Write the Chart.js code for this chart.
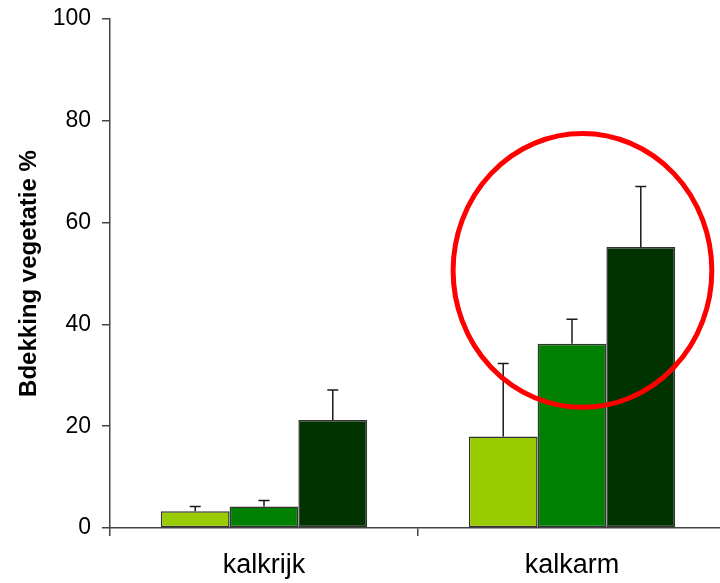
<!DOCTYPE html>
<html>
<head>
<meta charset="utf-8">
<script src="https://cdn.jsdelivr.net/npm/chart.js@4/dist/chart.umd.min.js"></script>
<style>
  html, body { margin: 0; padding: 0; background: #fff; overflow: hidden; }
  #wrap { width: 720px; height: 583px; overflow: hidden; }
</style>
</head>
<body>
<div id="wrap"><canvas id="myChart" width="740" height="583"></canvas></div>
<script>
'use strict';

// categories on the x axis
let categories = ['kalkrijk', 'kalkarm'];
// mean cover per series
let seriesLight = [3.3, 18.0];
let seriesMid = [4.2, 36.2];
let seriesDark = [21.2, 55.2];
// error bar (upper) per series
let errLight = [0.9, 14.3];
let errMid = [1.2, 4.8];
let errDark = [5.9, 11.9];
// y ticks
let yTicks = [0, 20, 40, 60, 80, 100];
// highlighted area (x in category units, y in %)
let circleCenter = [1.034, 50.6];
let circleRadius = [0.42, 26.9];

let errors = [errLight, errMid, errDark];

//plugin to draw the error bars on top of the bars
let errorBars = {
    id: 'errorBars',
    afterDatasetsDraw(chart) {
        let ctx = chart.ctx;
        let yScale = chart.scales.y;
        ctx.save();
        ctx.strokeStyle = '#1a1a1a';
        ctx.lineWidth = 1.5;
        chart.data.datasets.forEach(function (ds, i) {
            let meta = chart.getDatasetMeta(i);
            meta.data.forEach(function (bar, j) {
                let top = yScale.getPixelForValue(ds.data[j] + errors[i][j]);
                ctx.beginPath();
                ctx.moveTo(bar.x, bar.y);
                ctx.lineTo(bar.x, top);
                ctx.moveTo(bar.x - 5.5, top);
                ctx.lineTo(bar.x + 5.5, top);
                ctx.stroke();
            });
        });
        ctx.restore();
    }
};

//plugin for the red circle
let redCircle = {
    id: 'redCircle',
    afterDraw(chart) {
        let ctx = chart.ctx;
        let x = chart.scales.x;
        let y = chart.scales.y;
        let cx = x.getPixelForValue(circleCenter[0]);
        let cy = y.getPixelForValue(circleCenter[1]);
        let rx = Math.abs(x.getPixelForValue(circleCenter[0] + circleRadius[0]) - cx);
        let ry = Math.abs(y.getPixelForValue(circleCenter[1] + circleRadius[1]) - cy);
        ctx.save();
        ctx.strokeStyle = '#ff0000';
        ctx.lineWidth = 5;
        ctx.beginPath();
        ctx.ellipse(cx, cy, rx, ry, 0, 0, Math.PI * 2);
        ctx.stroke();
        ctx.restore();
    }
};

let ctx = document.getElementById('myChart').getContext('2d');
let chart = new Chart(ctx, {
    type: 'bar',
    data: {
        labels: categories,
        datasets: [{
            label: 'reeks 1',
            data: seriesLight,
            backgroundColor: '#99cc00'
        }, {
            label: 'reeks 2',
            data: seriesMid,
            backgroundColor: '#008000'
        }, {
            label: 'reeks 3',
            data: seriesDark,
            backgroundColor: '#003300'
        }]
    },
    options: {
        responsive: false,
        animation: false,
        events: [],
        datasets: {
            bar: {
                categoryPercentage: 0.67,
                barPercentage: 1.0,
                borderColor: '#333333',
                borderWidth: 1.5,
                borderSkipped: false
            }
        },
        layout: { padding: { top: 19, right: 14, left: 0, bottom: 0 } },
        plugins: {
            legend: { display: false },
            tooltip: { enabled: false }
        },
        scales: {
            x: {
                offset: true,
                afterFit(scale) {
                    scale.height = 55;
                    scale.paddingLeft = 0;
                    scale.paddingRight = 0;
                },
                grid: {
                    offset: true,
                    drawOnChartArea: false,
                    drawTicks: true,
                    tickLength: 8,
                    color: '#444',
                    lineWidth: 1.5
                },
                border: { color: '#444', width: 1.5 },
                ticks: {
                    color: '#000',
                    padding: 13,
                    font: { family: 'Liberation Sans, Arial, sans-serif', size: 27 }
                }
            },
            y: {
                min: 0,
                max: 100,
                afterFit(scale) {
                    scale.width = 110;
                    scale.paddingTop = 0;
                    scale.paddingBottom = 0;
                },
                afterBuildTicks(scale) {
                    scale.ticks = yTicks.map(function (v) { return { value: v }; });
                },
                grid: {
                    drawOnChartArea: false,
                    drawTicks: true,
                    tickLength: 8,
                    color: '#444',
                    lineWidth: 1.5
                },
                border: { color: '#444', width: 1.5 },
                ticks: {
                    color: '#000',
                    padding: 11,
                    font: { family: 'Liberation Sans, Arial, sans-serif', size: 23 }
                },
                title: {
                    display: true,
                    text: 'Bdekking vegetatie %',
                    color: '#000',
                    padding: { top: 15, bottom: 0 },
                    font: { family: 'Liberation Sans, Arial, sans-serif', size: 24, weight: 'bold' }
                }
            }
        }
    },
    plugins: [errorBars, redCircle]
});
</script>
</body>
</html>
